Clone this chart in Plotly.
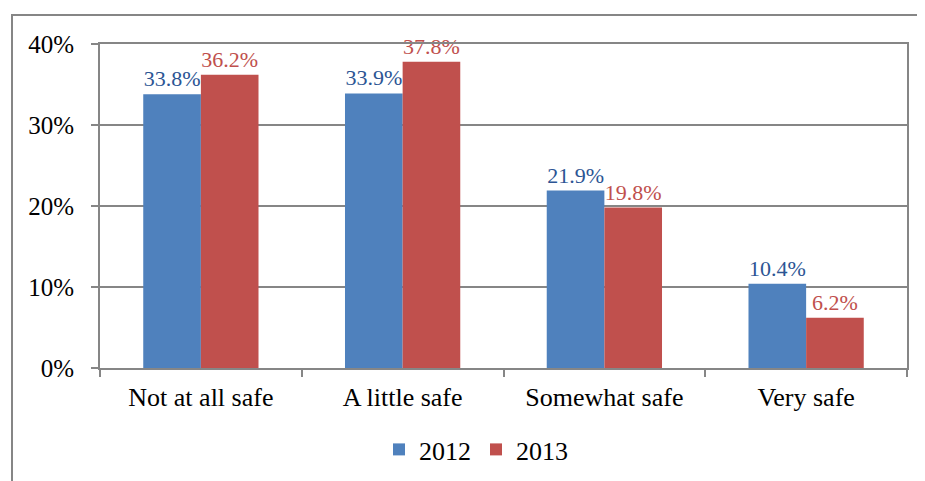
import plotly.graph_objects as go

categories = ["Not at all safe", "A little safe", "Somewhat safe", "Very safe"]
series_names = ["2012", "2013"]
values_2012 = [33.8, 33.9, 21.9, 10.4]
values_2013 = [36.2, 37.8, 19.8, 6.2]
y_tick_values = [0, 10, 20, 30, 40]
y_tick_labels = ["0%", "10%", "20%", "30%", "40%"]

blue = "#4F81BD"
red = "#C0504D"
grid = "#868686"
serif = "Liberation Serif"

# the page body adds an 8px offset; margins compensate so the plot area
# sits at x 100..907, y 44..368 of the window
OFF = 8
PL, PR, PT, PB = 100, 907, 44, 368
W, H = 925, 481
PW, PH = PR - PL, PB - PT

fig = go.Figure()
fig.add_trace(go.Bar(
    x=categories, y=values_2012, name=series_names[0],
    marker=dict(color=blue, line=dict(width=0)),
    text=[f"{v:.1f}%" for v in values_2012], textposition="outside",
    textfont=dict(family=serif, size=22, color="#2C5594"),
    cliponaxis=False,
))
fig.add_trace(go.Bar(
    x=categories, y=values_2013, name=series_names[1],
    marker=dict(color=red, line=dict(width=0)),
    text=[f"{v:.1f}%" for v in values_2013], textposition="outside",
    textfont=dict(family=serif, size=22, color=red),
    cliponaxis=False,
))

fig.update_layout(
    width=W, height=H,
    margin=dict(l=PL - OFF, r=W - (PR - OFF), t=PT - OFF, b=H - (PB - OFF), autoexpand=False),
    paper_bgcolor="white", plot_bgcolor="white",
    barmode="group", bargap=0.4286, bargroupgap=0,
    font=dict(family=serif, size=26, color="black"),
    showlegend=True,
    legend=dict(orientation="h", x=(476 - PL) / PW, xanchor="center",
                y=(PB - 426) / PH, yanchor="top",
                font=dict(family=serif, size=26), itemwidth=30,
                traceorder="normal"),
    xaxis=dict(
        showline=True, linecolor=grid, linewidth=2, mirror=True,
        ticks="outside", tickson="boundaries", ticklen=7, tickcolor=grid, tickwidth=2,
        showgrid=False, tickfont=dict(family=serif, size=26),
        ticklabelstandoff=5, automargin=False,
    ),
    yaxis=dict(
        range=[0, 40], tickvals=y_tick_values, ticktext=y_tick_labels,
        showline=True, linecolor=grid, linewidth=2, mirror=True,
        ticks="outside", ticklen=7, tickcolor=grid, tickwidth=2,
        showgrid=True, gridcolor=grid, gridwidth=1.5,
        tickfont=dict(family=serif, size=25),
        ticklabelstandoff=12, zeroline=False, automargin=False,
    ),
)

# outer chart-area border (extends beyond the visible page at right and bottom)
fig.add_shape(type="rect", xref="paper", yref="paper",
              x0=(12 - PL) / PW, x1=(940 - PL) / PW,
              y0=(PB - 500) / PH, y1=1 + (PT - 15) / PH,
              line=dict(color=grid, width=2), layer="below")

fig.write_html("out.html")
